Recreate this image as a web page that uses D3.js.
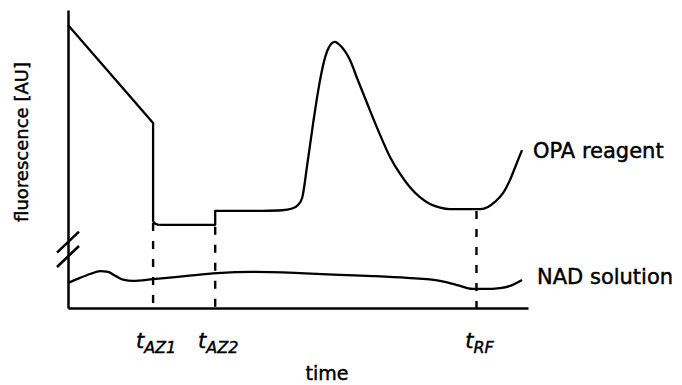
<!DOCTYPE html>
<html>
<head>
<meta charset="utf-8">
<script src="https://cdn.jsdelivr.net/npm/d3@7"></script>
<style>
  html, body { margin: 0; padding: 0; background: #fff; }
  svg { display: block; }
  text { font-family: "DejaVu Sans", sans-serif; fill: #000; stroke: #000; stroke-width: 0.45px; }
</style>
</head>
<body>
<svg id="chart" width="682" height="385"></svg>
<script>
// ---- data (time and fluorescence in arbitrary units, 0..100) ----
const opaStraight = [
  [0, 95.0], [18.5, 62.1], [18.5, 29.2], [18.8, 28.4], [19.5, 28.0], [20.7, 27.9],
  [32.0, 27.9], [32.0, 32.6], [42.4, 32.6]
];
const opaSmooth = [
  [42.4, 32.6], [46.5, 32.8], [48.7, 33.4], [50.0, 34.6], [50.9, 36.9], [52.0, 48.0],
  [53.3, 62.1], [54.6, 74.8], [55.7, 83.0], [56.7, 87.4], [58.0, 89.3], [59.3, 87.9],
  [61.3, 83.2], [63.0, 76.5], [65.0, 68.8], [67.4, 59.7], [70.0, 50.7], [72.2, 45.0],
  [74.3, 40.6], [76.5, 37.2], [78.7, 34.9], [80.9, 33.7], [83.0, 33.2], [89.6, 33.2],
  [91.3, 33.9], [92.8, 35.6], [94.6, 38.6], [96.1, 43.0], [97.4, 48.0], [98.7, 53.0]
];
const nadValues = [
  [0, 8.4], [2.6, 10.1], [4.8, 11.4], [7.0, 12.4], [8.7, 12.1], [10.4, 10.7],
  [12.2, 9.4], [14.1, 9.1], [18.5, 9.7], [25.4, 10.7], [32.4, 11.7], [40.2, 12.1],
  [50.4, 11.7], [59.1, 11.1], [66.3, 10.7], [73.7, 10.1], [80.9, 9.1], [84.6, 7.7],
  [88.0, 6.4], [90.7, 6.4], [93.9, 6.7], [96.1, 7.4], [98.7, 9.4]
];
const markerTimes = [18.5, 32.0, 88.8];
const markerTops = [29.2, 27.9, 33.2];
const markerSubs = ["AZ1", "AZ2", "RF"];
const seriesNames = ["OPA reagent", "NAD solution"];
const breakValues = [22.1, 17.3];
const xAxisTitle = "time";
const yAxisTitle = "fluorescence [AU]";

// ---- layout ----
const svg = d3.select("#chart");
const x = d3.scaleLinear().domain([0, 100]).range([68, 528]);
const y = d3.scaleLinear().domain([0, 100]).range([308, 10]);

// axes (no ticks)
svg.append("g").attr("transform", `translate(0,${y(0)})`)
  .call(d3.axisBottom(x).tickValues([]).tickSizeOuter(0))
  .select(".domain").attr("stroke", "#000").attr("stroke-width", 2.5);
svg.append("g").attr("transform", `translate(${x(0)},0)`)
  .call(d3.axisLeft(y).tickValues([]).tickSizeOuter(0))
  .select(".domain").attr("stroke", "#000").attr("stroke-width", 2.5);

// axis break marks
breakValues.forEach(v => {
  svg.append("line")
    .attr("x1", x(0) - 11).attr("y1", y(v) + 10.5)
    .attr("x2", x(0) + 11).attr("y2", y(v) - 10.5)
    .attr("stroke", "#000").attr("stroke-width", 2.6);
});

const lineLin = d3.line().x(d => x(d[0])).y(d => y(d[1])).curve(d3.curveLinear);
const lineSmooth = d3.line().x(d => x(d[0])).y(d => y(d[1])).curve(d3.curveMonotoneX);

// dashed markers
markerTimes.forEach((t, i) => {
  svg.append("line")
    .attr("x1", x(t)).attr("x2", x(t))
    .attr("y1", y(markerTops[i]) + 2).attr("y2", y(0))
    .attr("stroke", "#000").attr("stroke-width", 2.4)
    .attr("stroke-dasharray", "8,10");
});

// OPA curve
svg.append("path").attr("d", lineLin(opaStraight))
  .attr("fill", "none").attr("stroke", "#000").attr("stroke-width", 2.3)
  .attr("stroke-linejoin", "round");
svg.append("path").attr("d", lineSmooth(opaSmooth))
  .attr("fill", "none").attr("stroke", "#000").attr("stroke-width", 2.3)
  .attr("stroke-linejoin", "round");

// NAD curve
svg.append("path").attr("d", lineSmooth(nadValues))
  .attr("fill", "none").attr("stroke", "#000").attr("stroke-width", 2.3);

// series labels
const lastOpa = opaSmooth[opaSmooth.length - 1];
const lastNad = nadValues[nadValues.length - 1];
svg.append("text").attr("x", x(lastOpa[0]) + 11).attr("y", y(lastOpa[1]) + 8)
  .attr("font-size", 21).text(seriesNames[0]);
svg.append("text").attr("x", x(lastNad[0]) + 15).attr("y", y(lastNad[1]) + 4)
  .attr("font-size", 21).text(seriesNames[1]);

// marker labels
markerTimes.forEach((t, i) => {
  const tx = svg.append("text").attr("x", x(t) + 3).attr("y", y(0) + 40)
    .attr("text-anchor", "middle").attr("font-style", "italic");
  tx.append("tspan").attr("font-size", 21).text("t");
  tx.append("tspan").attr("font-size", 16).attr("dy", 5).text(markerSubs[i]);
});

// axis titles
svg.append("text").attr("x", 327).attr("y", 380).attr("text-anchor", "middle")
  .attr("font-size", 19).text(xAxisTitle);
svg.append("text").attr("transform", "translate(28,142) rotate(-90)")
  .attr("text-anchor", "middle").attr("font-size", 18).text(yAxisTitle);
</script>
</body>
</html>
